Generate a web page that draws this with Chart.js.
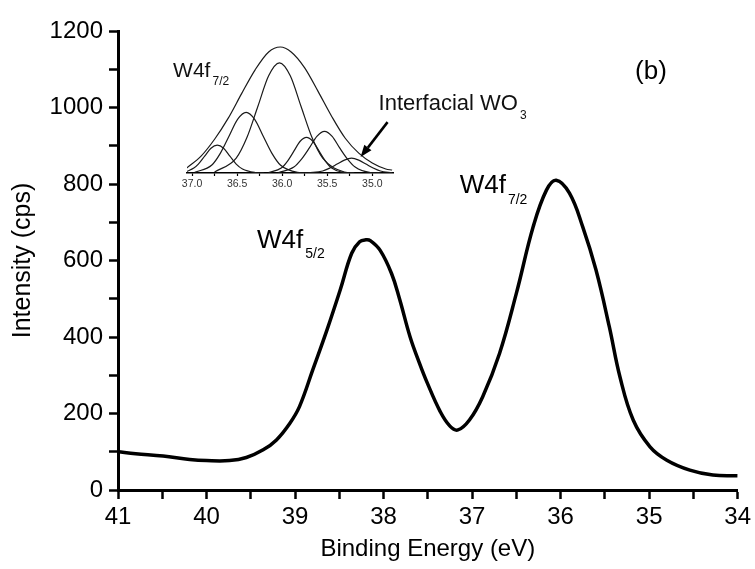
<!DOCTYPE html>
<html>
<head>
<meta charset="utf-8">
<script src="https://cdn.jsdelivr.net/npm/chart.js@4.4.0/dist/chart.umd.min.js"></script>
<style>
  body { margin: 0; background: #fff; }
  #wrap { position: relative; width: 755px; height: 569px; }
  #mainChart { position: absolute; left: 0; top: 0; }
  #insetChart { position: absolute; left: 160px; top: 30px; }
</style>
</head>
<body>
<div id="wrap">
  <canvas id="mainChart" width="755" height="569"></canvas>
  <canvas id="insetChart" width="380" height="170"></canvas>
</div>
<script>
// W4f spectrum (binding energy in eV, intensity in cps)
var energy = [41.00, 40.80, 40.49, 40.19, 40.00, 39.74, 39.55, 39.36, 39.21, 39.06, 38.95, 38.80,
              38.64, 38.49, 38.36, 38.27, 38.20, 38.15, 38.04, 37.91, 37.82, 37.70, 37.60, 37.51,
              37.36, 37.25, 37.16, 37.03, 36.88, 36.69, 36.50, 36.31, 36.16, 36.05, 35.90, 35.75,
              35.60, 35.45, 35.33, 35.18, 34.99, 34.80, 34.54, 34.28, 34.00];
var intensity = [100, 95, 89, 80, 77, 77, 85, 105, 131, 174, 218, 314,
                 418, 523, 619, 649, 654, 652, 627, 566, 500, 400, 335, 282,
                 205, 167, 157, 183, 244, 357, 514, 688, 784, 810, 776, 688,
                 575, 427, 296, 183, 113, 78, 52, 39, 37];

var xTickLabels = [41, 40, 39, 38, 37, 36, 35, 34];
var yTickLabels = [0, 200, 400, 600, 800, 1000, 1200];

// inset: W4f7/2 fit (arbitrary units)
var insetTickLabels = [37.0, 36.5, 36.0, 35.5, 35.0];
var envE = [37.06, 36.9, 36.75, 36.6, 36.45, 36.3, 36.15, 36.02, 35.9, 35.75, 35.6, 35.45, 35.3, 35.15, 35.0, 34.85, 34.78];
var envI = [5, 17, 34, 55, 80, 104, 122, 127, 122, 106, 82, 57, 35, 20, 10, 4, 3];
var p1E = [37.06, 36.98, 36.93, 36.86, 36.79, 36.72, 36.65, 36.58, 36.51, 36.44, 36.30, 36.20];
var p1I = [1.5, 5, 9, 17, 25, 28, 25, 17, 9, 4, 0.5, 0];
var p2E = [36.97, 36.78, 36.685, 36.59, 36.495, 36.40, 36.305, 36.21, 36.115, 36.02, 35.83, 35.7];
var p2I = [0.7, 8, 20, 37, 54, 61, 54, 37, 20, 8, 0.7, 0];
var p3E = [36.75, 36.51, 36.39, 36.27, 36.15, 36.03, 35.91, 35.79, 35.67, 35.55, 35.31, 35.2];
var p3I = [1, 15, 36, 67, 98, 111, 98, 67, 36, 15, 1, 0];
var p4E = [36.15, 36.01, 35.94, 35.87, 35.80, 35.73, 35.66, 35.59, 35.52, 35.45, 35.31, 35.2];
var p4I = [0.4, 5, 12, 22, 32, 36, 32, 22, 12, 5, 0.4, 0];
var p5E = [36.04, 35.87, 35.785, 35.70, 35.615, 35.53, 35.445, 35.36, 35.275, 35.19, 35.02, 34.9];
var p5I = [0.5, 6, 14, 25, 37, 42, 37, 25, 14, 6, 0.5, 0];
var p6E = [35.71, 35.55, 35.47, 35.39, 35.31, 35.23, 35.15, 35.07, 34.99, 34.91, 34.78];
var p6I = [0.2, 2, 5, 9, 13, 15, 13, 9, 5, 2, 0.3];

var FONT = '"Liberation Sans", Arial, sans-serif';

function pts(xs, ys) {
  return xs.map(function (x, i) { return { x: x, y: ys[i] }; });
}

function hasLabel(list, v) {
  return list.some(function (t) { return Math.abs(t - v) < 1e-6; });
}

// text with a subscript after it
function drawSub(ctx, main, sub, px, py, size, subSize) {
  ctx.font = size + 'px ' + FONT;
  ctx.textAlign = 'left';
  ctx.textBaseline = 'alphabetic';
  ctx.fillText(main, px, py);
  var w = ctx.measureText(main).width;
  ctx.font = subSize + 'px ' + FONT;
  ctx.fillText(sub, px + w + 2, py + size * 0.4);
}

var mainLabels = {
  id: 'mainLabels',
  afterDraw: function (chart) {
    var ctx = chart.ctx, x = chart.scales.x, y = chart.scales.y;
    ctx.save();
    ctx.fillStyle = '#000';
    drawSub(ctx, 'W4f', '5/2', x.getPixelForValue(39.43), y.getPixelForValue(633), 26, 14);
    drawSub(ctx, 'W4f', '7/2', x.getPixelForValue(37.14), y.getPixelForValue(776), 26, 14);
    ctx.font = '26px ' + FONT;
    ctx.textAlign = 'center';
    ctx.textBaseline = 'middle';
    ctx.fillText('(b)', x.getPixelForValue(34.98), y.getPixelForValue(1093));
    ctx.restore();
  }
};

var insetLabels = {
  id: 'insetLabels',
  afterDraw: function (chart) {
    var ctx = chart.ctx, x = chart.scales.x, y = chart.scales.y;
    ctx.save();
    ctx.fillStyle = '#111';
    drawSub(ctx, 'W4f', '7/2', x.getPixelForValue(37.21), y.getPixelForValue(96.7), 21, 12);
    drawSub(ctx, 'Interfacial WO', '3', x.getPixelForValue(34.93), y.getPixelForValue(63.5), 22, 12);

    // arrow towards the interfacial WO3 component
    var hx = x.getPixelForValue(35.13), hy = y.getPixelForValue(16);
    var tx = hx + 27, ty = hy - 35;
    var ang = Math.atan2(hy - ty, hx - tx);
    var len = 12, half = 4.5;
    var bx = hx - len * Math.cos(ang), by = hy - len * Math.sin(ang);
    ctx.strokeStyle = '#000';
    ctx.lineWidth = 2.5;
    ctx.beginPath();
    ctx.moveTo(tx, ty);
    ctx.lineTo(bx, by);
    ctx.stroke();
    ctx.beginPath();
    ctx.moveTo(hx, hy);
    ctx.lineTo(bx + half * Math.sin(ang), by - half * Math.cos(ang));
    ctx.lineTo(bx - half * Math.sin(ang), by + half * Math.cos(ang));
    ctx.closePath();
    ctx.fillStyle = '#000';
    ctx.fill();
    ctx.restore();
  }
};

new Chart(document.getElementById('mainChart').getContext('2d'), {
  type: 'line',
  data: {
    datasets: [{
      label: 'W4f',
      data: pts(energy, intensity),
      borderColor: '#000',
      borderWidth: 3.5,
      pointRadius: 0,
      fill: false,
      tension: 0.4
    }]
  },
  options: {
    responsive: false,
    animation: false,
    devicePixelRatio: 1,
    layout: { padding: { left: 0, right: 17, top: 31, bottom: 0 } },
    plugins: { legend: { display: false }, tooltip: { enabled: false } },
    scales: {
      x: {
        type: 'linear',
        reverse: true,
        min: 34,
        max: 41,
        afterFit: function (s) { s.height = 79; },
        border: { color: '#000', width: 3 },
        grid: { drawOnChartArea: false, tickLength: 9, tickWidth: 2.5, color: '#000' },
        ticks: {
          stepSize: 0.5,
          autoSkip: false,
          maxRotation: 0,
          padding: 4,
          color: '#000',
          font: { family: FONT, size: 24 },
          callback: function (v) { return hasLabel(xTickLabels, v) ? String(v) : ''; }
        },
        title: {
          display: true,
          text: 'Binding Energy (eV)',
          color: '#000',
          font: { family: FONT, size: 24 },
          padding: { top: 0, bottom: 5 }
        }
      },
      y: {
        min: 0,
        max: 1200,
        afterFit: function (s) { s.width = 118; },
        border: { color: '#000', width: 3 },
        grid: { drawOnChartArea: false, tickLength: 9, tickWidth: 2.5, color: '#000' },
        ticks: {
          stepSize: 100,
          autoSkip: false,
          padding: 6,
          color: '#000',
          font: { family: FONT, size: 24 },
          callback: function (v) { return hasLabel(yTickLabels, v) ? String(v) : ''; }
        },
        title: {
          display: true,
          text: 'Intensity (cps)',
          color: '#000',
          font: { family: FONT, size: 25 },
          padding: { top: 8, bottom: 0 }
        }
      }
    }
  },
  plugins: [mainLabels]
});

var insetSets = [[envE, envI], [p1E, p1I], [p2E, p2I], [p3E, p3I], [p4E, p4I], [p5E, p5I], [p6E, p6I]];

new Chart(document.getElementById('insetChart').getContext('2d'), {
  type: 'line',
  data: {
    datasets: insetSets.map(function (s, i) {
      return {
        label: i === 0 ? 'envelope' : 'peak ' + i,
        data: pts(s[0], s[1]),
        borderColor: '#1a1a1a',
        borderWidth: 1.2,
        pointRadius: 0,
        fill: false,
        cubicInterpolationMode: 'monotone'
      };
    })
  },
  options: {
    responsive: false,
    animation: false,
    devicePixelRatio: 1,
    layout: { padding: { left: 27, right: 147, top: 14, bottom: 0 } },
    plugins: { legend: { display: false }, tooltip: { enabled: false } },
    scales: {
      x: {
        type: 'linear',
        reverse: true,
        min: 34.77,
        max: 37.056,
        afterFit: function (s) { s.height = 27; },
        border: { color: '#000', width: 1.5 },
        grid: { drawOnChartArea: false, tickLength: 3, tickWidth: 1.2, color: '#000' },
        ticks: {
          stepSize: 0.25,
          includeBounds: false,
          autoSkip: false,
          maxRotation: 0,
          padding: 2,
          color: '#333',
          font: { family: FONT, size: 10.5 },
          callback: function (v) { return hasLabel(insetTickLabels, v) ? v.toFixed(1) : ''; }
        }
      },
      y: { display: false, min: 0, max: 130 }
    }
  },
  plugins: [insetLabels]
});
</script>
</body>
</html>
